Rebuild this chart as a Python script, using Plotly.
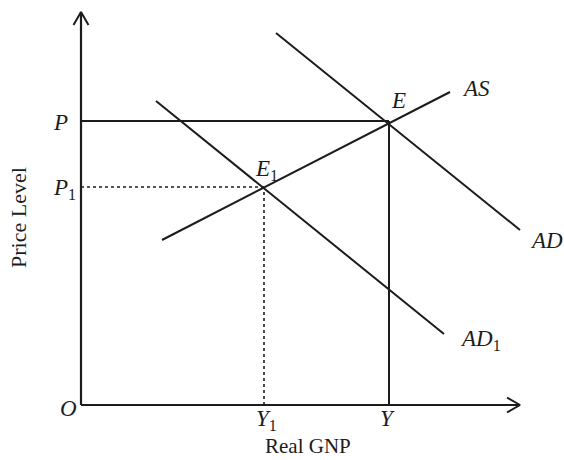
import plotly.graph_objects as go

# Economic diagram values (units: arbitrary, origin O = (0, 0))
x_max = 43.9          # end of Real GNP axis (arrow tip)
y_max = 39.3          # end of Price Level axis (arrow tip)
P, P1 = 28.4, 21.8    # price levels
Y, Y1 = 30.8, 18.3    # output levels
AS_x = [8.1, 36.9]
AS_y = [16.5, 31.3]
AD_x = [19.5, 43.9]
AD_y = [37.2, 17.5]
AD1_x = [7.5, 36.3]
AD1_y = [30.4, 7.1]

ink = "#1c1c1c"
font = "Liberation Serif"

fig = go.Figure()

def seg(xs, ys, dash="solid", w=2.0):
    fig.add_trace(go.Scatter(x=xs, y=ys, mode="lines",
                             line=dict(color=ink, width=w, dash=dash),
                             hoverinfo="skip", showlegend=False))

# axes
seg([0, 0], [0, y_max], w=2.2)
seg([0, x_max], [0, 0], w=2.2)
# arrow heads (open chevrons)
seg([-0.75, 0, 0.75], [y_max - 1.3, y_max, y_max - 1.3], w=2.0)
seg([x_max - 1.3, x_max, x_max - 1.3], [0.75, 0, -0.75], w=2.0)

# curves
seg(AS_x, AS_y)
seg(AD_x, AD_y)
seg(AD1_x, AD1_y)

# equilibrium guides
seg([0, Y], [P, P])
seg([Y, Y], [0, P])
seg([0, Y1], [P1, P1], dash="dot", w=1.6)
seg([Y1, Y1], [0, P1], dash="dot", w=1.6)

def lab(x, y, text, size=23, xanchor="center", yanchor="middle", angle=0):
    fig.add_annotation(x=x, y=y, text=text, showarrow=False,
                       font=dict(family=font, size=size, color=ink),
                       xanchor=xanchor, yanchor=yanchor, textangle=angle)

lab(-2.1, 28.3, "<i>P</i>")
lab(-1.7, 21.6, "<i>P</i><sub>1</sub>")
lab(-1.3, -0.3, "<i>O</i>")
lab(18.5, -1.5, "<i>Y</i><sub>1</sub>")
lab(30.6, -1.3, "<i>Y</i>")
lab(31.7, 30.5, "<i>E</i>")
lab(18.5, 23.5, "<i>E</i><sub>1</sub>")
lab(37.9, 31.7, "<i>AS</i>", xanchor="left")
lab(44.7, 16.5, "<i>AD</i>", xanchor="left")
lab(37.7, 6.5, "<i>AD</i><sub>1</sub>", xanchor="left")
lab(22.7, -4.1, "Real GNP", size=21)
lab(-6.3, 18.7, "Price Level", size=22, angle=-90)

fig.update_xaxes(visible=False, range=[-8.1, 48.3], fixedrange=True)
fig.update_yaxes(visible=False, range=[-5.5, 40.5], fixedrange=True)
fig.update_layout(width=564, height=460, margin=dict(l=0, r=0, t=0, b=0),
                  paper_bgcolor="white", plot_bgcolor="white")

fig.write_html("out.html", config={"displayModeBar": False},
               post_script="document.body.style.margin='0';")
